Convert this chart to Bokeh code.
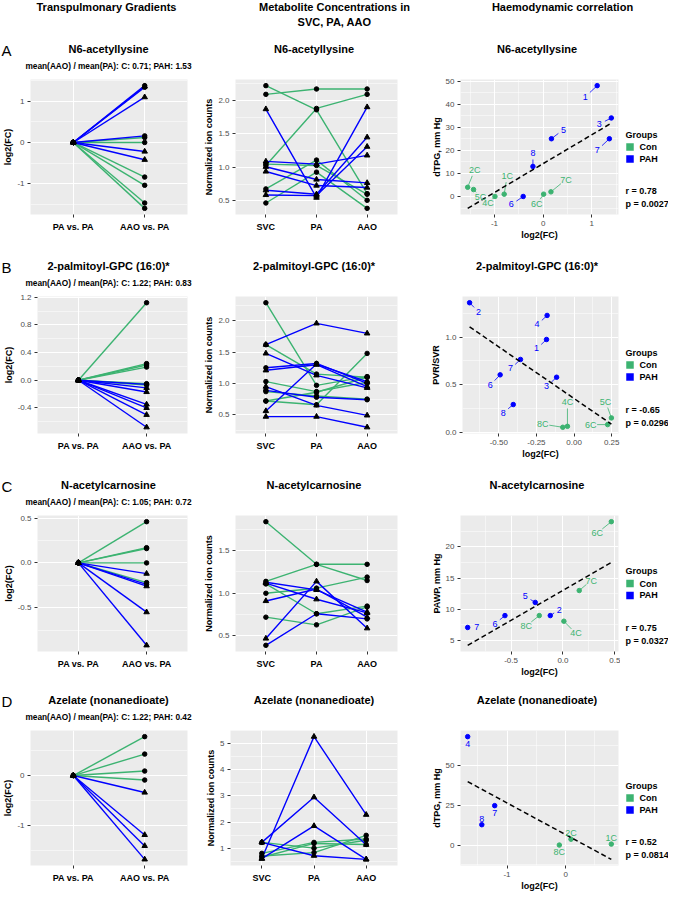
import numpy as np
from bokeh.plotting import figure
from bokeh.layouts import column, row
from bokeh.models import Range1d, FixedTicker
from bokeh.core.properties import value
from bokeh.embed import file_html
from bokeh.resources import INLINE

FONT = "Liberation Sans"
CON_COLOR = "#3CB371"
PAH_COLOR = "#0000FF"
PANEL_BG = "#EBEBEB"
TICK_TEXT = "#4D4D4D"
TICK_LINE = "#333333"

# ---------------- texts ----------------
column_headers = ["Transpulmonary Gradients", "Metabolite Concentrations in", "SVC, PA, AAO", "Haemodynamic correlation"]
panel_letters = ["A", "B", "C", "D"]
metabolites = ["N6-acetyllysine", "2-palmitoyl-GPC (16:0)*", "N-acetylcarnosine", "Azelate (nonanedioate)"]
ratio_texts = ["mean(AAO) / mean(PA): C: 0.71; PAH: 1.53",
               "mean(AAO) / mean(PA): C: 1.22; PAH: 0.83",
               "mean(AAO) / mean(PA): C: 1.05; PAH: 0.72",
               "mean(AAO) / mean(PA): C: 1.22; PAH: 0.42"]
fc_categories = ["PA vs. PA", "AAO vs. PA"]
sites = ["SVC", "PA", "AAO"]
groups = ["Con", "PAH"]
legend_title = "Groups"
fc_ylabel = "log2(FC)"
conc_ylabel = "Normalized ion counts"
corr_xlabel = "log2(FC)"
corr_ylabels = ["dTPG, mm Hg", "PVR/SVR", "PAWP, mm Hg", "dTPG, mm Hg"]
corr_r = ["r = 0.78", "r = -0.65", "r = 0.75", "r = 0.52"]
corr_p = ["p = 0.0027", "p = 0.0296", "p = 0.0327", "p = 0.0814"]

# ---------------- row A : N6-acetyllysine ----------------
a_fc_con = [0.12, 0.00, -0.84, -1.04, -1.47, -1.60]
a_fc_con_shape = ["circle"] * 6
a_fc_pah = [1.38, 1.36, 1.34, 1.10, 0.16, -0.22, -0.42]
a_fc_pah_shape = ["circle", "triangle", "circle", "triangle", "circle", "triangle", "triangle"]
a_conc_con = [[2.22, 1.86, 0.61], [2.09, 2.17, 2.17], [1.03, 1.88, 2.09],
              [0.68, 1.11, 0.51], [0.47, 0.93, 0.39], [1.05, 1.03, 0.60]]
a_conc_con_shape = ["circle"] * 6
a_conc_pah = [[1.87, 0.55, 1.90], [0.66, 0.60, 1.45], [0.59, 0.58, 1.31],
              [1.09, 1.05, 1.18], [1.01, 0.82, 0.77], [0.94, 0.73, 0.70]]
a_conc_pah_shape = ["triangle"] * 6
a_corr_con_x = [-1.55, -1.43, -0.99, -0.80, 0.01, 0.16]
a_corr_con_y = [4, 3, 0, 1, 1, 2]
a_corr_con_lab = ["2C", "5C", "4C", "1C", "6C", "7C"]
a_corr_pah_x = [1.11, 1.40, 1.36, 0.17, -0.21, -0.41]
a_corr_pah_y = [48, 34, 25, 25, 13, 0]
a_corr_pah_lab = ["1", "3", "7", "5", "8", "6"]
a_fc_yticks = [-1, 0, 1]
a_fc_ytick_labels = ["-1", "0", "1"]
a_conc_yticks = [0.5, 1.0, 1.5, 2.0]
a_conc_ytick_labels = ["0.5", "1.0", "1.5", "2.0"]
a_corr_xticks = [-1, 0, 1]
a_corr_xtick_labels = ["-1", "0", "1"]
a_corr_yticks = [0, 10, 20, 30, 40, 50]
a_corr_ytick_labels = ["0", "10", "20", "30", "40", "50"]

# ---------------- row B : 2-palmitoyl-GPC ----------------
b_fc_con = [1.12, 0.24, 0.22, 0.19, -0.05, -0.07]
b_fc_con_shape = ["circle"] * 6
b_fc_pah = [-0.06, -0.11, -0.17, -0.35, -0.40, -0.50, -0.68]
b_fc_pah_shape = ["circle", "triangle", "triangle", "triangle", "triangle", "triangle", "triangle"]
b_conc_con = [[2.29, 0.97, 1.11], [1.62, 1.15, 1.10], [1.03, 0.87, 1.02],
              [0.72, 0.66, 1.48], [0.72, 0.86, 1.10], [0.87, 0.80, 0.75]]
b_conc_con_shape = ["circle"] * 6
b_conc_pah = [[1.62, 1.96, 1.80], [1.48, 1.13, 0.93], [1.25, 1.32, 1.00], [1.21, 1.30, 0.95],
              [0.56, 1.31, 1.03], [0.89, 0.78, 0.74], [0.95, 0.65, 0.49], [0.47, 0.47, 0.30]]
b_conc_pah_shape = ["triangle", "triangle", "circle", "triangle", "triangle", "circle", "triangle", "triangle"]
b_corr_con_x = [-0.044, -0.075, 0.248, 0.223]
b_corr_con_y = [0.066, 0.056, 0.154, 0.084]
b_corr_con_lab = ["4C", "8C", "5C", "6C"]
b_corr_pah_x = [-0.694, -0.179, -0.183, -0.356, -0.491, -0.116, -0.404]
b_corr_pah_y = [1.36, 1.227, 0.975, 0.766, 0.605, 0.58, 0.294]
b_corr_pah_lab = ["2", "4", "1", "7", "6", "3", "8"]
b_fc_yticks = [-0.4, 0.0, 0.4, 0.8, 1.2]
b_fc_ytick_labels = ["-0.4", "0.0", "0.4", "0.8", "1.2"]
b_conc_yticks = [0.5, 1.0, 1.5, 2.0]
b_conc_ytick_labels = ["0.5", "1.0", "1.5", "2.0"]
b_corr_xticks = [-0.5, -0.25, 0.0, 0.25]
b_corr_xtick_labels = ["-0.50", "-0.25", "0.00", "0.25"]
b_corr_yticks = [0.0, 0.5, 1.0]
b_corr_ytick_labels = ["0.0", "0.5", "1.0"]

# ---------------- row C : N-acetylcarnosine ----------------
c_fc_con = [0.46, 0.17, 0.16, 0.00, -0.22]
c_fc_con_shape = ["circle"] * 5
c_fc_pah = [-0.12, -0.24, -0.26, -0.55, -0.92]
c_fc_pah_shape = ["triangle", "circle", "triangle", "triangle", "triangle"]
c_conc_con = [[1.84, 1.34, 1.34], [1.14, 1.34, 1.15], [1.00, 1.06, 1.19],
              [1.11, 0.76, 0.85], [0.72, 0.63, 0.84]]
c_conc_con_shape = ["circle"] * 5
c_conc_pah = [[1.12, 0.93, 0.77], [0.91, 1.05, 0.72], [0.47, 1.14, 0.59],
              [0.39, 0.76, 0.70], [1.13, 1.04, 0.78]]
c_conc_pah_shape = ["triangle", "triangle", "triangle", "circle", "triangle"]
c_corr_con_x = [0.466, 0.157, -0.228, 0.009]
c_corr_con_y = [24, 13, 9, 8.1]
c_corr_con_lab = ["6C", "7C", "8C", "4C"]
c_corr_pah_x = [-0.918, -0.559, -0.267, -0.122]
c_corr_pah_y = [7.1, 9, 11.1, 9]
c_corr_pah_lab = ["7", "6", "5", "2"]
c_fc_yticks = [-0.5, 0.0, 0.5]
c_fc_ytick_labels = ["-0.5", "0.0", "0.5"]
c_conc_yticks = [0.5, 1.0, 1.5]
c_conc_ytick_labels = ["0.5", "1.0", "1.5"]
c_corr_xticks = [-0.5, 0.0, 0.5]
c_corr_xtick_labels = ["-0.5", "0.0", "0.5"]
c_corr_yticks = [5, 10, 15, 20]
c_corr_ytick_labels = ["5", "10", "15", "20"]

# ---------------- row D : Azelate ----------------
d_fc_con = [0.78, 0.43, 0.09, -0.09]
d_fc_con_shape = ["circle"] * 4
d_fc_pah = [-0.34, -1.19, -1.41, -1.68]
d_fc_pah_shape = ["triangle"] * 4
d_conc_con = [[1.22, 1.00, 1.30], [0.80, 1.22, 1.35], [0.70, 0.83, 1.49], [0.65, 1.18, 1.14]]
d_conc_con_shape = ["circle"] * 4
d_conc_pah = [[1.22, 0.71, 0.57], [0.60, 5.27, 2.28], [1.22, 2.95, 1.13], [0.60, 1.85, 0.57]]
d_conc_pah_shape = ["triangle"] * 4
d_corr_con_x = [-0.107, 0.092, 0.78]
d_corr_con_y = [0, 3.7, 0.6]
d_corr_con_lab = ["8C", "2C", "1C"]
d_corr_pah_x = [-1.671, -1.21, -1.43]
d_corr_pah_y = [68.2, 24.8, 12.8]
d_corr_pah_lab = ["4", "7", "8"]
d_fc_yticks = [-1, 0]
d_fc_ytick_labels = ["-1", "0"]
d_conc_yticks = [1, 2, 3, 4, 5]
d_conc_ytick_labels = ["1", "2", "3", "4", "5"]
d_corr_xticks = [-1, 0]
d_corr_xtick_labels = ["-1", "0"]
d_corr_yticks = [0, 25, 50]
d_corr_ytick_labels = ["0", "25", "50"]

# ---------------- label placement (screen px offsets, style only) ----------------
a_off_con = [(7, -17), (7, 7), (-7, 7), (3, -18), (-7, 10), (15, -12)]
a_off_pah = [(-12, 11), (-12, 6), (-12, 11), (12, -9), (0, -13), (-12, 8)]
b_off_con = [(0, -24), (-20, -3), (-6, -16), (-17, 0)]
b_off_pah = [(9, 9), (-10, 9), (-10, 9), (-10, 9), (-10, 10), (-10, 9), (-10, 8)]
c_off_con = [(-14, 11), (12, -10), (-13, 10), (12, 12)]
c_off_pah = [(9, 0), (-10, 8), (-10, -6), (9, -6)]
d_off_con = [(0, 7), (0, -6), (0, -6)]
d_off_pah = [(0, 7), (0, 7), (0, -6)]

# ---------------- layout geometry (reference pixel coordinates) ----------------
COL_FIG = [(8, 209), (209, 436), (436, 628), (628, 676)]
COL_FRAME = [(37, 195), (238, 405), (463, 626)]
HEADER_X = [114, 342, 570]
ROW_FRAME_TOP = [87, 304, 523, 738]
ROW_FRAME_H = [136, 138, 137, 136]
BT, BB = 5, 27
MARKER_SIZE = {"circle": 4.5, "triangle": 5.5}


def expand(lo, hi, f=0.05):
    s = hi - lo
    return lo - f * s, hi + f * s


def minor_from(ticks):
    t = list(ticks)
    step = t[1] - t[0]
    return [t[0] - step / 2] + [a + step / 2 for a in t]


def style_axis(ax, label, ticks, labels, minor, bold=False, size="8px", color=TICK_TEXT, standoff=2):
    ax.ticker = FixedTicker(ticks=list(ticks), minor_ticks=list(minor))
    ax.major_label_overrides = {t: l for t, l in zip(ticks, labels)}
    ax.axis_label = label
    ax.axis_label_text_font = FONT
    ax.axis_label_text_font_style = "bold"
    ax.axis_label_text_font_size = "9px"
    ax.axis_label_text_color = "black"
    ax.axis_label_standoff = 1
    ax.major_label_text_font = FONT
    ax.major_label_text_font_size = size
    ax.major_label_text_font_style = "bold" if bold else "normal"
    ax.major_label_text_color = color
    ax.major_label_standoff = standoff
    ax.axis_line_color = None
    ax.major_tick_line_color = TICK_LINE
    ax.major_tick_out = 3
    ax.major_tick_in = 0
    ax.minor_tick_line_color = None
    return ax.ticker


def base_fig(col, fh, xr, yr):
    fx0, fx1 = COL_FIG[col]
    lx0, lx1 = COL_FRAME[col]
    p = figure(width=fx1 - fx0, height=BT + fh + BB, x_range=xr, y_range=yr,
               output_backend="svg", toolbar_location=None,
               min_border_left=lx0 - fx0, min_border_right=fx1 - lx1,
               min_border_top=BT, min_border_bottom=BB)
    p.background_fill_color = PANEL_BG
    p.border_fill_color = "white"
    p.outline_line_color = None
    p.grid.grid_line_color = "white"
    p.grid.grid_line_width = 1.1
    p.grid.minor_grid_line_color = "white"
    p.grid.minor_grid_line_width = 0.5
    return p


def draw_points(p, xs, ys, shapes):
    p.scatter(x=xs, y=ys, marker=shapes, size=[MARKER_SIZE[s] for s in shapes],
              fill_color="black", line_color="black")


def fc_panel(con, con_sh, pah, pah_sh, yt, ytl, fh):
    vals = con + pah + [0.0]
    ylo, yhi = expand(min(vals), max(vals))
    p = base_fig(0, fh, Range1d(0.4, len(fc_categories) + 0.6), Range1d(ylo, yhi))
    xpos = list(range(1, len(fc_categories) + 1))
    xt = style_axis(p.xaxis[0], "", xpos, fc_categories, [], bold=True, size="9px", color="black", standoff=4)
    yt_ = style_axis(p.yaxis[0], fc_ylabel, yt, ytl, minor_from(yt))
    p.xgrid.ticker = xt
    p.ygrid.ticker = yt_
    p.xgrid.minor_grid_line_color = None
    for vals_, color in [(con, CON_COLOR), (pah, PAH_COLOR)]:
        p.multi_line(xs=[xpos for _ in vals_], ys=[[0.0, v] for v in vals_], line_color=color, line_width=1.4)
    for vals_, sh in [(con, con_sh), (pah, pah_sh)]:
        draw_points(p, [xpos[0]] * len(vals_) + [xpos[1]] * len(vals_), [0.0] * len(vals_) + list(vals_), list(sh) * 2)
    return p


def conc_panel(con, con_sh, pah, pah_sh, yt, ytl, fh):
    vals = [v for r in con + pah for v in r]
    ylo, yhi = expand(min(vals), max(vals))
    p = base_fig(1, fh, Range1d(0.4, len(sites) + 0.6), Range1d(ylo, yhi))
    xpos = list(range(1, len(sites) + 1))
    xt = style_axis(p.xaxis[0], "", xpos, sites, [], bold=True, size="9px", color="black", standoff=4)
    yt_ = style_axis(p.yaxis[0], conc_ylabel, yt, ytl, minor_from(yt))
    p.xgrid.ticker = xt
    p.ygrid.ticker = yt_
    p.xgrid.minor_grid_line_color = None
    for rows_, color in [(con, CON_COLOR), (pah, PAH_COLOR)]:
        p.multi_line(xs=[xpos for _ in rows_], ys=[list(r) for r in rows_], line_color=color, line_width=1.4)
    for rows_, sh in [(con, con_sh), (pah, pah_sh)]:
        xs, ys, ss = [], [], []
        for r, s in zip(rows_, sh):
            xs += xpos
            ys += list(r)
            ss += [s] * len(r)
        draw_points(p, xs, ys, ss)
    return p


def corr_panel(cx, cy, clab, coff, px, py, plab, poff, xt, xtl, yt, ytl, ylabel, fh):
    allx = np.array(cx + px, dtype=float)
    ally = np.array(cy + py, dtype=float)
    slope, icpt = np.polyfit(allx, ally, 1)
    lx = np.array([allx.min(), allx.max()])
    ly = slope * lx + icpt
    xlo, xhi = expand(allx.min(), allx.max())
    ylo, yhi = expand(min(ally.min(), ly.min()), max(ally.max(), ly.max()))
    p = base_fig(2, fh, Range1d(xlo, xhi), Range1d(ylo, yhi))
    xtk = style_axis(p.xaxis[0], corr_xlabel, xt, xtl, minor_from(xt))
    ytk = style_axis(p.yaxis[0], ylabel, yt, ytl, minor_from(yt))
    p.xgrid.ticker = xtk
    p.ygrid.ticker = ytk
    fw = COL_FRAME[2][1] - COL_FRAME[2][0]
    kx = fw / (xhi - xlo)
    ky = fh / (yhi - ylo)
    for xs, ys, offs, color in [(cx, cy, coff, CON_COLOR), (px, py, poff, PAH_COLOR)]:
        x0, y0, x1, y1 = [], [], [], []
        for x, y, (dx, dy) in zip(xs, ys, offs):
            d = float(np.hypot(dx, dy))
            if d > 9:
                f = (d - 6) / d
                x0.append(x); y0.append(y)
                x1.append(x + dx * f / kx); y1.append(y - dy * f / ky)
        if x0:
            p.segment(x0=x0, y0=y0, x1=x1, y1=y1, line_color=color, line_width=0.8)
        p.scatter(x=xs, y=ys, size=4.5, fill_color=color, line_color=color)
    p.line(x=list(lx), y=list(ly), line_color="black", line_dash="5 3", line_width=1.5)
    for xs, ys, labs, offs, color in [(cx, cy, clab, coff, CON_COLOR), (px, py, plab, poff, PAH_COLOR)]:
        p.text(x=xs, y=ys, text=labs, x_offset=[o[0] for o in offs], y_offset=[o[1] for o in offs],
               text_align="center", text_baseline="middle", text_color=color,
               text_font=value(FONT), text_font_size="9px")
    return p


def legend_panel(fh, r_text, p_text):
    fx0, fx1 = COL_FIG[3]
    p = figure(width=fx1 - fx0, height=BT + fh + BB, x_range=Range1d(fx0, fx1), y_range=Range1d(fh, 0),
               output_backend="svg", toolbar_location=None, x_axis_type=None, y_axis_type=None,
               min_border_left=0, min_border_right=0, min_border_top=BT, min_border_bottom=BB)
    p.background_fill_color = "white"
    p.border_fill_color = "white"
    p.outline_line_color = None
    cy = fh / 2.0
    tx = fx0 + 5
    p.text(x=[tx], y=[cy - 12.5], text=[legend_title], text_font=value(FONT), text_font_size="9px",
           text_font_style="bold", text_align="left", text_baseline="middle", text_color="black")
    p.rect(x=[tx + 4.5, tx + 4.5], y=[cy, cy + 12], width=7.5, height=7.5,
           fill_color=[CON_COLOR, PAH_COLOR], line_color=None)
    p.text(x=[tx + 14, tx + 14], y=[cy, cy + 12], text=groups, text_font=value(FONT), text_font_size="9px",
           text_font_style="bold", text_align="left", text_baseline="middle", text_color="black")
    p.text(x=[tx, tx], y=[fh - 24, fh - 11], text=[r_text, p_text], text_font=value(FONT),
           text_font_size="9px", text_font_style="bold", text_align="left", text_baseline="middle",
           text_color="black")
    return p


def make_strip(y_top, y_bottom):
    p = figure(width=COL_FIG[3][1] - COL_FIG[0][0], height=y_bottom - y_top,
               x_range=Range1d(COL_FIG[0][0], COL_FIG[3][1]), y_range=Range1d(y_bottom, y_top),
               output_backend="svg", toolbar_location=None, x_axis_type=None, y_axis_type=None,
               min_border_left=0, min_border_right=0, min_border_top=0, min_border_bottom=0)
    p.background_fill_color = "white"
    p.border_fill_color = "white"
    p.outline_line_color = None
    return p


def strip_text(p, xs, ys, texts, size, bold=True, align="center"):
    p.text(x=xs, y=ys, text=texts, text_font=value(FONT), text_font_size=size,
           text_font_style="bold" if bold else "normal", text_align=align,
           text_baseline="middle", text_color="black")


rows_data = [
    (a_fc_con, a_fc_con_shape, a_fc_pah, a_fc_pah_shape, a_fc_yticks, a_fc_ytick_labels,
     a_conc_con, a_conc_con_shape, a_conc_pah, a_conc_pah_shape, a_conc_yticks, a_conc_ytick_labels,
     a_corr_con_x, a_corr_con_y, a_corr_con_lab, a_off_con, a_corr_pah_x, a_corr_pah_y, a_corr_pah_lab, a_off_pah,
     a_corr_xticks, a_corr_xtick_labels, a_corr_yticks, a_corr_ytick_labels),
    (b_fc_con, b_fc_con_shape, b_fc_pah, b_fc_pah_shape, b_fc_yticks, b_fc_ytick_labels,
     b_conc_con, b_conc_con_shape, b_conc_pah, b_conc_pah_shape, b_conc_yticks, b_conc_ytick_labels,
     b_corr_con_x, b_corr_con_y, b_corr_con_lab, b_off_con, b_corr_pah_x, b_corr_pah_y, b_corr_pah_lab, b_off_pah,
     b_corr_xticks, b_corr_xtick_labels, b_corr_yticks, b_corr_ytick_labels),
    (c_fc_con, c_fc_con_shape, c_fc_pah, c_fc_pah_shape, c_fc_yticks, c_fc_ytick_labels,
     c_conc_con, c_conc_con_shape, c_conc_pah, c_conc_pah_shape, c_conc_yticks, c_conc_ytick_labels,
     c_corr_con_x, c_corr_con_y, c_corr_con_lab, c_off_con, c_corr_pah_x, c_corr_pah_y, c_corr_pah_lab, c_off_pah,
     c_corr_xticks, c_corr_xtick_labels, c_corr_yticks, c_corr_ytick_labels),
    (d_fc_con, d_fc_con_shape, d_fc_pah, d_fc_pah_shape, d_fc_yticks, d_fc_ytick_labels,
     d_conc_con, d_conc_con_shape, d_conc_pah, d_conc_pah_shape, d_conc_yticks, d_conc_ytick_labels,
     d_corr_con_x, d_corr_con_y, d_corr_con_lab, d_off_con, d_corr_pah_x, d_corr_pah_y, d_corr_pah_lab, d_off_pah,
     d_corr_xticks, d_corr_xtick_labels, d_corr_yticks, d_corr_ytick_labels),
]

items = []
prev_bottom = 8
for i, rd in enumerate(rows_data):
    (fcc, fccs, fcp, fcps, fyt, fytl, cc, ccs, cp, cps, cyt, cytl,
     kx, ky, kl, ko, qx, qy, ql, qo, xt, xtl, yt, ytl) = rd
    ft = ROW_FRAME_TOP[i]
    fh = ROW_FRAME_H[i]
    strip = make_strip(prev_bottom, ft - BT)
    if i == 0:
        strip_text(strip, [HEADER_X[0], HEADER_X[1], HEADER_X[1], HEADER_X[2]], [14, 14, 29, 14],
                   column_headers, "11px")
    centers = [(a + b) / 2.0 for a, b in COL_FRAME]
    strip_text(strip, [9], [ft - 29.5], [panel_letters[i]], "15px", bold=False, align="left")
    strip_text(strip, centers, [ft - 31] * 3, [metabolites[i]] * 3, "11px")
    strip_text(strip, [centers[0]], [ft - 13.5], [ratio_texts[i]], "8.3px")
    f1 = fc_panel(fcc, fccs, fcp, fcps, fyt, fytl, fh)
    f2 = conc_panel(cc, ccs, cp, cps, cyt, cytl, fh)
    f3 = corr_panel(kx, ky, kl, ko, qx, qy, ql, qo, xt, xtl, yt, ytl, corr_ylabels[i], fh)
    f4 = legend_panel(fh, corr_r[i], corr_p[i])
    items.append(strip)
    items.append(row(f1, f2, f3, f4))
    prev_bottom = ft - BT + BT + fh + BB

layout = column(*items)
open("out.html", "w").write(file_html(layout, INLINE))
